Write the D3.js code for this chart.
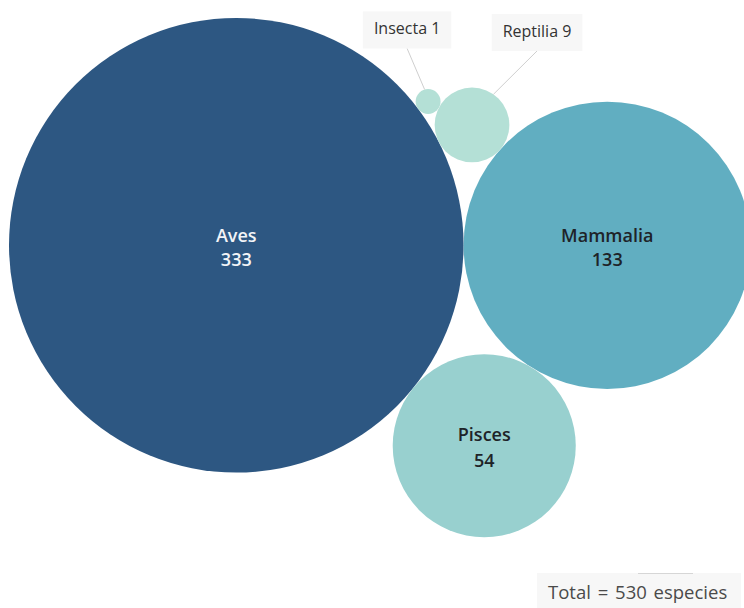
<!DOCTYPE html>
<html>
<head>
<meta charset="utf-8">
<script src="https://cdn.jsdelivr.net/npm/d3@7"></script>
<style>
  body { margin: 0; background: #fff; }
  svg { display: block; font-family: "Open Sans", "Noto Sans", sans-serif; }
</style>
</head>
<body>
<div id="chart"></div>
<script>
const categories = ["Aves", "Mammalia", "Pisces", "Reptilia", "Insecta"];
const counts = [333, 133, 54, 9, 1];
const colors = ["#2d5782", "#61aec1", "#98d0cf", "#b4e0d6", "#b4e0d6"];
// small bubbles get a callout box instead of an inside label
const calloutNames = ["Insecta", "Reptilia"];
const calloutOffsets = [[-21, -72], [65, -93]];

const WIDTH = 744, HEIGHT = 608;
const MARGIN = { LEFT: 9, TOP: 18 };

const svg = d3.select("#chart").append("svg")
    .attr("width", WIDTH)
    .attr("height", HEIGHT);

const r = d3.scaleSqrt()
    .domain([0, d3.max(counts)])
    .range([0, 227.3]);

const nodes = categories.map((c, i) => ({ name: c, value: counts[i], r: r(counts[i]), color: colors[i] }));
d3.packSiblings(nodes); // same front-chain packing as the original bubble layout

const minX = d3.min(nodes, d => d.x - d.r);
const minY = d3.min(nodes, d => d.y - d.r);

const g = svg.append("g")
    .attr("transform", `translate(${MARGIN.LEFT - minX}, ${MARGIN.TOP - minY})`);

g.selectAll("circle")
    .data(nodes)
  .enter().append("circle")
    .attr("cx", d => d.x)
    .attr("cy", d => d.y)
    .attr("r", d => d.r)
    .attr("fill", d => d.color);

// labels inside the big bubbles
const inside = g.selectAll("g.lbl")
    .data(nodes.filter(d => !calloutNames.includes(d.name)))
  .enter().append("g")
    .attr("class", "lbl")
    .attr("transform", d => `translate(${d.x}, ${d.y})`)
    .attr("text-anchor", "middle")
    .attr("font-size", 18)
    .attr("font-weight", 600)
    .attr("fill", (d, i) => i === 0 ? "#f2f4f7" : "#1e2328");

inside.append("text").attr("y", d => d.name === "Pisces" ? -5 : -3).text(d => d.name);
inside.append("text").attr("y", 21).text(d => d.value);

// callouts for the small bubbles
calloutNames.forEach((name, i) => {
  const d = nodes.find(n => n.name === name);
  const [ox, oy] = calloutOffsets[i];
  const bx = d.x + ox, by = d.y + oy;
  const len = Math.hypot(ox, oy);
  const co = g.append("g");
  co.append("line")
      .attr("x1", bx).attr("y1", by + 19)
      .attr("x2", d.x + ox / len * d.r).attr("y2", d.y + oy / len * d.r)
      .attr("stroke", "#cfcfcf")
      .attr("stroke-width", 1);
  const rect = co.append("rect").attr("fill", "#f7f7f7");
  const t = co.append("text")
      .attr("x", bx).attr("y", by + 5)
      .attr("text-anchor", "middle")
      .attr("font-size", 16)
      .attr("fill", "#333")
      .text(`${d.name} ${d.value}`);
  const w = t.node().getBBox().width + 22;
  rect.attr("x", bx - w / 2).attr("y", by - 18).attr("width", w).attr("height", 37);
  t.raise();
});

// total box
const total = d3.sum(counts);
svg.append("rect")
    .attr("x", 537).attr("y", 573)
    .attr("width", 204).attr("height", 40)
    .attr("fill", "#f7f7f7");
svg.append("line")
    .attr("x1", 638).attr("x2", 693).attr("y1", 573.5).attr("y2", 573.5)
    .attr("stroke", "#d6d6d6");
svg.append("text")
    .attr("x", 548).attr("y", 599)
    .attr("font-size", 18.5)
    .attr("fill", "#4a4a4a")
    .attr("word-spacing", 2)
    .text(`Total = ${total} especies`);
</script>
</body>
</html>
